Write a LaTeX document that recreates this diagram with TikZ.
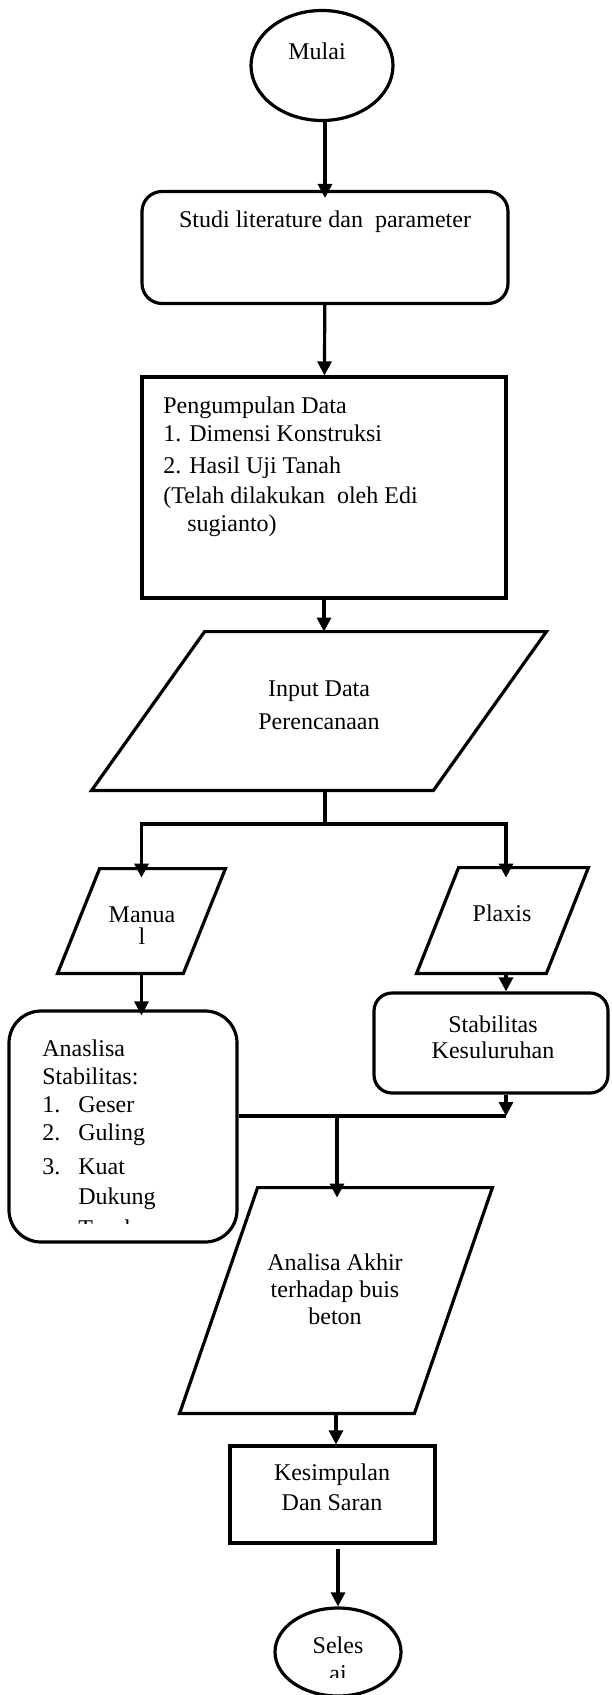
\documentclass[tikz,border=0pt]{standalone}
\usepackage{fontspec}
\setmainfont{Liberation Serif}
\usetikzlibrary{shapes.geometric, arrows.meta}

\begin{document}
\begin{tikzpicture}[
    x=0.5pt, y=-0.5pt,
    font=\fontsize{12}{14}\selectfont,
    conn/.style={line width=1.6pt},
    flow/.style={conn, -{Triangle[length=7pt,width=7pt]}},
    boxed/.style={draw, line width=1.6pt, inner sep=0pt},
    terminal/.style={boxed, ellipse},
    process/.style={boxed, rectangle, rounded corners=#1},
    plainbox/.style={boxed, rectangle},
    inout/.style={rectangle, inner sep=0pt},
    txt/.style={inner sep=0pt, align=center}
  ]
    \useasboundingbox (0,0) rectangle (611,1695);

    \node[terminal, minimum width=71pt, minimum height=55pt] (mulai) at (322,65.5) {};
    \node[txt] (mulai-t) at (317,51) {Mulai};

    \node[process=10pt, minimum width=183pt, minimum height=56pt] (studi) at (325,247.5) {};
    \node[txt] (studi-t) at (325,222) {Studi literature dan\ \ parameter};

    \node[plainbox, minimum width=182pt, minimum height=110.5pt] (kumpul) at (324,487.5) {};
    \node[txt, align=left, anchor=north west] (kumpul-t) at (163,396) {Pengumpulan Data\\
        1. Dimensi Konstruksi\\[2pt]
        2. Hasil Uji Tanah\\[1pt]
        (Telah dilakukan\ \ oleh Edi\\
        \hspace*{12pt}sugianto)};

    \node[inout, minimum width=227pt, minimum height=79pt] (input) at (319,711) {};
    \draw[conn] ([xshift=56.5pt]input.north west) -- (input.north east)
        -- ([xshift=-56.5pt]input.south east) -- (input.south west) -- cycle;
    \node[txt] (input-t) at (319,705) {Input Data\\[2.5pt]Perencanaan};

    \coordinate (split) at (325,824);
    \coordinate (rcol) at (506,824);

    \node[inout, minimum width=83.5pt, minimum height=52pt] (manual) at (141.5,921) {};
    \draw[conn] ([xshift=21pt]manual.north west) -- (manual.north east)
        -- ([xshift=-21pt]manual.south east) -- (manual.south west) -- cycle;
    \node[txt] (manual-t) at (142,926) {Manua\\[-3pt]l};

    \node[inout, minimum width=85.5pt, minimum height=52.5pt] (plaxis) at (502.5,920.5) {};
    \draw[conn] ([xshift=21pt]plaxis.north west) -- (plaxis.north east)
        -- ([xshift=-21pt]plaxis.south east) -- (plaxis.south west) -- cycle;
    \node[txt] (plaxis-t) at (502,913) {Plaxis};

    \node[process=9pt, minimum width=117pt, minimum height=50pt] (stab) at (491,1043) {};
    \node[txt] (stab-t) at (493,1037) {Stabilitas\\[-1pt]Kesuluruhan};

    \node[process=16pt, minimum width=114pt, minimum height=115.5pt] (anal) at (123,1126.5) {};
    \begin{scope}
        \clip (0,1000) rectangle (250,1223);
        \node[txt, align=left, anchor=north west] (anal-t) at (42,1039) {Anaslisa\\
            Stabilitas:\\
            \makebox[18pt][l]{1.}Geser\\
            \makebox[18pt][l]{2.}Guling\\[3pt]
            \makebox[18pt][l]{3.}Kuat\\[1pt]
            \hspace*{18pt}Dukung\\[2pt]
            \hspace*{18pt}Tanah};
    \end{scope}

    \node[inout, minimum width=156pt, minimum height=112.5pt] (akhir) at (336,1300.5) {};
    \draw[conn] ([xshift=39pt]akhir.north west) -- (akhir.north east)
        -- ([xshift=-39pt]akhir.south east) -- (akhir.south west) -- cycle;
    \node[txt] (akhir-t) at (335,1289) {Analisa Akhir\\[-0.5pt]terhadap buis\\[-0.5pt]beton};

    \node[plainbox, minimum width=102.5pt, minimum height=48.5pt] (kesim) at (332.5,1494.5) {};
    \node[txt] (kesim-t) at (332,1487) {Kesimpulan\\[1pt]Dan Saran};

    \node[terminal, minimum width=63pt, minimum height=44pt] (seles) at (338,1652) {};
    \begin{scope}
        \clip (250,1600) rectangle (430,1677);
        \node[txt] (seles-t) at (338,1659) {Seles\\ai};
    \end{scope}

    \coordinate (join) at (337,1116);

    \draw[flow, shorten >=-4pt] (mulai.south -| studi.north) -- (studi.north);
    \draw[flow] (studi) -- (kumpul);
    \draw[flow] (kumpul.south) -- (kumpul.south |- input.north);
    \draw[conn] (input.south -| split) -- (split);
    \draw[flow, shorten >=-4.5pt] (split) -- (split -| manual.north) -- (manual.north);
    \draw[flow, shorten >=-5pt] (split) -- (rcol) -- (rcol |- plaxis.north);
    \draw[flow, shorten >=-3pt] (manual.south) -- (manual.south |- anal.north);
    \draw[flow] (rcol |- plaxis.south) -- (rcol |- stab.north);
    \draw[flow] (rcol |- stab.south) -- (rcol |- join);
    \draw[conn] (join -| anal.east) -- (rcol |- join);
    \draw[flow, shorten >=-5pt] (join) -- (join |- akhir.north);
    \draw[flow] (akhir.south) -- (akhir.south |- kesim.north);
    \draw[flow, shorten <=2pt] (kesim.south -| seles.north) -- (seles.north);
\end{tikzpicture}
\end{document}
